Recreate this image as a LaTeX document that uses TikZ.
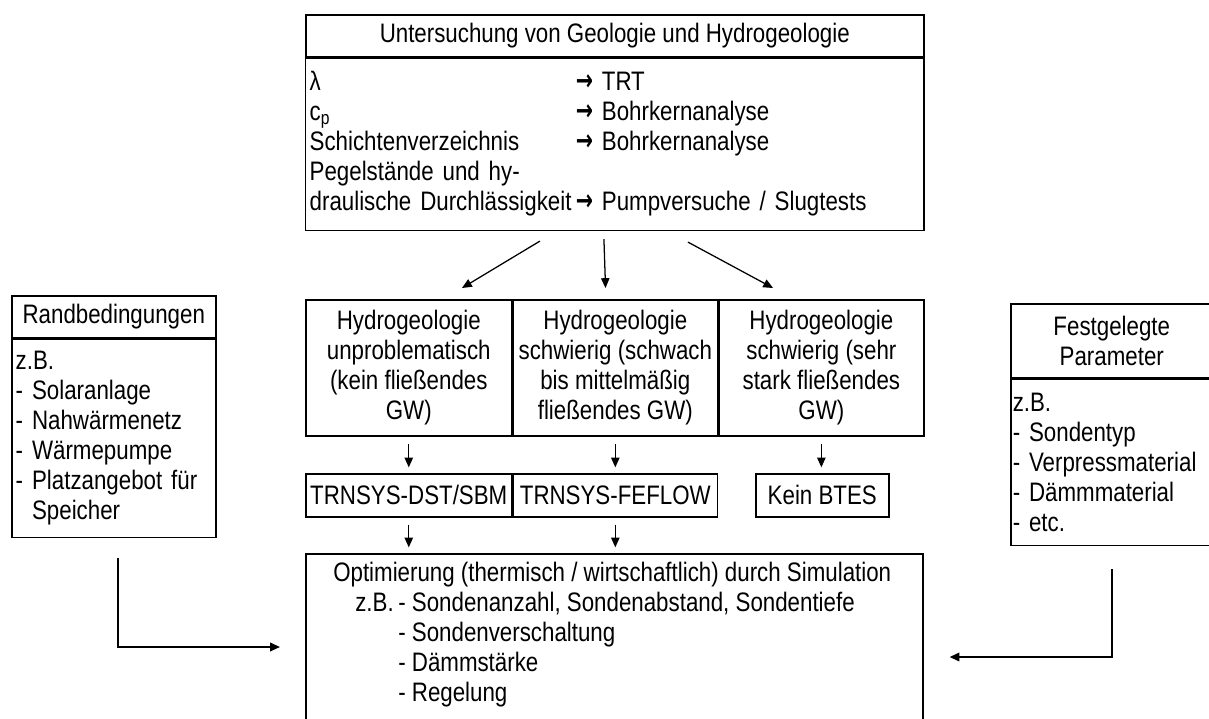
\documentclass[tikz,border=0pt]{standalone}
\usepackage{fontspec}
\setmainfont{Liberation Sans}[FakeStretch=0.835]
\newfontfamily\arrfont{DejaVu Sans}[FakeStretch=0.7, Scale=1.1]
\usetikzlibrary{arrows.meta,calc}
\newcommand{\pxu}{0.025cm}
\newcommand{\toarr}{{\arrfont\bfseries →}\ }
\newcommand{\diafont}{\fontsize{19}{21.3}\selectfont}

\begin{document}
\begin{tikzpicture}[x=\pxu, y=-\pxu,
    font=\diafont,
    box/.style={draw, line width=1.1pt, inner sep=0pt, anchor=north west, align=center},
    txtbox/.style={box, align=left, inner xsep=4*\pxu},
    arr/.style={-{Triangle[length=7pt,width=6pt]}, line width=0.9pt},
    bigarr/.style={arr, line width=1.4pt}]
    \useasboundingbox (0,0) rectangle (1209,718);

    \node[box, minimum width=618*\pxu, minimum height=42*\pxu] (untTitle) at (305,14)
      {Untersuchung von Geologie und Hydrogeologie};
    \node[txtbox, anchor=north, minimum height=172*\pxu, text width=15.25cm] (untBody) at (untTitle.south)
      {\begin{tabular}{@{}p{6.65cm}@{}l@{}}
        λ & \toarr TRT\\
        c\textsubscript{p} & \toarr Bohrkernanalyse\\
        Schichtenverzeichnis & \toarr Bohrkernanalyse\\
        Pegelstände und hy- & \\
        draulische Durchlässigkeit & \toarr Pumpversuche / Slugtests
      \end{tabular}};

    \node[box, minimum width=206*\pxu, minimum height=136*\pxu] (hyd1) at (305,299)
      {Hydrogeologie\\ unproblematisch\\ (kein fließendes\\ GW)};
    \node[box, minimum width=204*\pxu, minimum height=136*\pxu] (hyd2) at (hyd1.north east)
      {Hydrogeologie\\ schwierig (schwach\\ bis mittelmäßig\\ fließendes GW)};
    \node[box, minimum width=205*\pxu, minimum height=136*\pxu] (hyd3) at (hyd2.north east)
      {Hydrogeologie\\ schwierig (sehr\\ stark fließendes\\ GW)};

    \node[box, minimum width=206*\pxu, minimum height=43*\pxu] (sim1) at (305,473) {TRNSYS-DST/SBM};
    \node[box, minimum width=204*\pxu, minimum height=43*\pxu] (sim2) at (sim1.north east) {TRNSYS-FEFLOW};
    \node[box, minimum width=133*\pxu, minimum height=43*\pxu] (kein) at (755,473) {Kein BTES};

    \node[box, minimum width=617*\pxu, minimum height=175*\pxu] (opt) at (305,553) {};
    \node[anchor=north west, inner sep=0pt, align=left] (optText) at ($(opt.north west)+(28,7)$)
      {\begin{tabular}{@{}p{1.625cm}@{}l@{}}
        \multicolumn{2}{@{}l@{}}{Optimierung (thermisch / wirtschaftlich) durch Simulation}\\
        \hspace*{0.55cm}z.B. & - Sondenanzahl, Sondenabstand, Sondentiefe\\
        & - Sondenverschaltung\\
        & - Dämmstärke\\
        & - Regelung
      \end{tabular}};

    \node[box, minimum width=204*\pxu, minimum height=42*\pxu] (randTitle) at (11,295) {Randbedingungen};
    \node[txtbox, anchor=north, minimum height=198*\pxu, text width=4.9cm] (randBody) at (randTitle.south)
      {z.B.\\ - Solaranlage\\ - Nahwärmenetz\\ - Wärmepumpe\\ - Platzangebot für\\ \phantom{- }Speicher};

    \node[box, minimum width=202*\pxu, minimum height=74*\pxu] (festTitle) at (1010,303)
      {Festgelegte\\ Parameter};
    \node[txtbox, anchor=north, minimum height=166*\pxu, text width=4.95cm, inner xsep=2*\pxu] (festBody) at (festTitle.south)
      {z.B.\\ - Sondentyp\\ - Verpressmaterial\\ - Dämmmaterial\\ - etc.};

    \draw[arr] ($(untBody.south west)+(235,10)$) -- ($(hyd1.north west)+(157,-11)$);
    \draw[arr] ($(untBody.south west)+(299,8)$) -- ($(hyd2.north west)+(93,-11)$);
    \draw[arr] ($(untBody.south west)+(383,11)$) -- ($(hyd3.north west)+(55,-11)$);
    \draw[arr, shorten <=5pt, shorten >=4pt] (hyd1.south) -- (sim1.north);
    \draw[arr, shorten <=5pt, shorten >=4pt] (hyd2.south) -- (sim2.north);
    \draw[arr, shorten <=5pt, shorten >=4pt] (hyd3.south) -- (hyd3.south |- kein.north);
    \draw[arr, shorten <=5pt, shorten >=4pt] (sim1.south) -- (sim1.south |- opt.north);
    \draw[arr, shorten <=5pt, shorten >=4pt] (sim2.south) -- (sim2.south |- opt.north);
    \draw[bigarr] ($(randBody.south)+(4,20)$) |- ($(opt.north west)+(-25,94)$);
    \draw[bigarr] ($(festBody.south)+(0,23)$) |- ($(opt.north east)+(26,104)$);
\end{tikzpicture}
\end{document}
